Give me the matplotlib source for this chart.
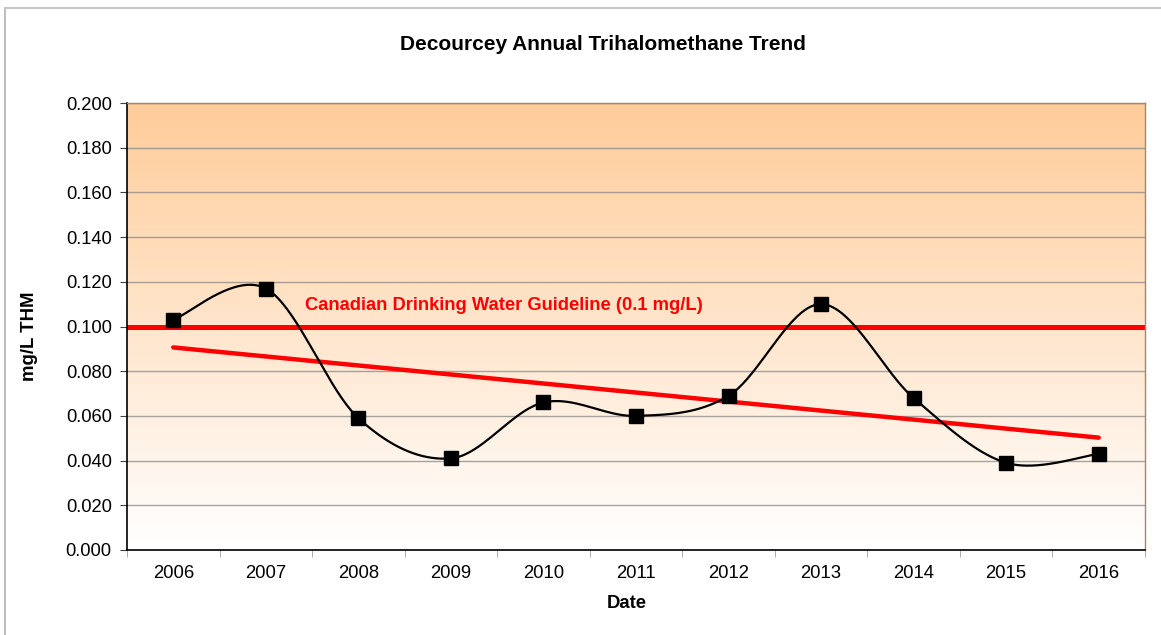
import numpy as np
import matplotlib
matplotlib.use("Agg")
import matplotlib.pyplot as plt
from matplotlib.lines import Line2D
from matplotlib.colors import LinearSegmentedColormap

plt.rcParams['font.family'] = ['Liberation Sans', 'DejaVu Sans']

years = ['2006', '2007', '2008', '2009', '2010', '2011', '2012', '2013', '2014', '2015', '2016']
thm = [0.103, 0.117, 0.059, 0.041, 0.066, 0.060, 0.069, 0.110, 0.068, 0.039, 0.043]
guideline = 0.100
guideline_label = 'Canadian Drinking Water Guideline (0.1 mg/L)'
title = 'Decourcey Annual Trihalomethane Trend'
yticks = [0.0, 0.02, 0.04, 0.06, 0.08, 0.10, 0.12, 0.14, 0.16, 0.18, 0.20]

W, H = 1161, 635
fig = plt.figure(figsize=(W / 100, H / 100), dpi=100)
ax = fig.add_axes([127 / W, 1 - 550 / H, (1145 - 127) / W, (550 - 103) / H])

x = np.arange(len(years))
y = np.array(thm)

# gradient background
cmap = LinearSegmentedColormap.from_list('bg', ['#FFFFFF', '#FFCC99'])
grad = np.linspace(0, 1, 256).reshape(-1, 1)
ax.imshow(grad, extent=(-0.5, 10.5, 0, 0.2), origin='lower', aspect='auto',
          cmap=cmap, zorder=0)

ax.set_xlim(-0.5, 10.5)
ax.set_ylim(0, 0.2)
ax.set_yticks(yticks)
ax.set_yticklabels([f'{v:.3f}' for v in yticks])
ax.yaxis.grid(True, color='#808080', alpha=0.7, linewidth=1)
ax.set_axisbelow(True)

# smoothed curve (Excel-like bezier smoothing)
def smooth(xs, ys, n=40):
    P = np.column_stack([xs, ys]).astype(float)
    ext = np.vstack([P[0], P, P[-1]])
    out = []
    for i in range(len(P) - 1):
        p0, p1, p2, p3 = ext[i], ext[i + 1], ext[i + 2], ext[i + 3]
        c1 = p1 + (p2 - p0) / 6
        c2 = p2 - (p3 - p1) / 6
        t = np.linspace(0, 1, n)[:, None]
        seg = ((1 - t) ** 3) * p1 + 3 * ((1 - t) ** 2) * t * c1 + 3 * (1 - t) * t ** 2 * c2 + t ** 3 * p2
        out.append(seg)
    return np.vstack(out)

curve = smooth(x, y)
ax.plot(curve[:, 0], curve[:, 1], color='black', linewidth=1.6, zorder=3)
ax.plot(x, y, linestyle='none', marker='s', markersize=10, color='black', zorder=4)

# trendline
coef = np.polyfit(x, y, 1)
ax.plot(x[[0, -1]], np.polyval(coef, x[[0, -1]]), color='#FF0000', linewidth=3.2,
        solid_capstyle='round', zorder=2)

# guideline
ax.axhline(guideline, color='#FF0000', linewidth=3.6, zorder=2)
ax.text(1.42, 0.1092, guideline_label, color='#FF0000', fontsize=13.2,
        fontweight='bold', ha='left', va='center', zorder=5)

# ticks
ax.set_xticks(x)
ax.set_xticklabels(years, fontsize=13.3)
ax.set_xticks(np.arange(-0.5, 11, 1), minor=True)
ax.tick_params(axis='x', which='major', length=0, pad=11)
ax.tick_params(axis='x', which='minor', length=5, color='#A0A0A0')
ax.tick_params(axis='y', length=5, labelsize=13.2, pad=6, color='#404040')

for s in ['top', 'right']:
    ax.spines[s].set_color('#A08870')
    ax.spines[s].set_linewidth(1)
for s in ['left', 'bottom']:
    ax.spines[s].set_color('black')
    ax.spines[s].set_linewidth(1.2)

fig.text(603 / W, 1 - 45 / H, title, fontsize=15, fontweight='bold',
         ha='center', va='center')
fig.text(29 / W, 1 - 336 / H, 'mg/L THM', fontsize=13.4, fontweight='bold',
         ha='center', va='center', rotation=90)
fig.text(627 / W, 1 - 604 / H, 'Date', fontsize=13.3, fontweight='bold',
         ha='center', va='center')

# outer frame (top and left edges visible)
fig.add_artist(Line2D([5 / W, 5 / W], [0, 1 - 8 / H], transform=fig.transFigure,
                      color='#B0B0B0', linewidth=1.2))
fig.add_artist(Line2D([5 / W, 1], [1 - 8 / H, 1 - 8 / H], transform=fig.transFigure,
                      color='#C8C8C8', linewidth=1.5))

fig.savefig('out.png', dpi=100)
